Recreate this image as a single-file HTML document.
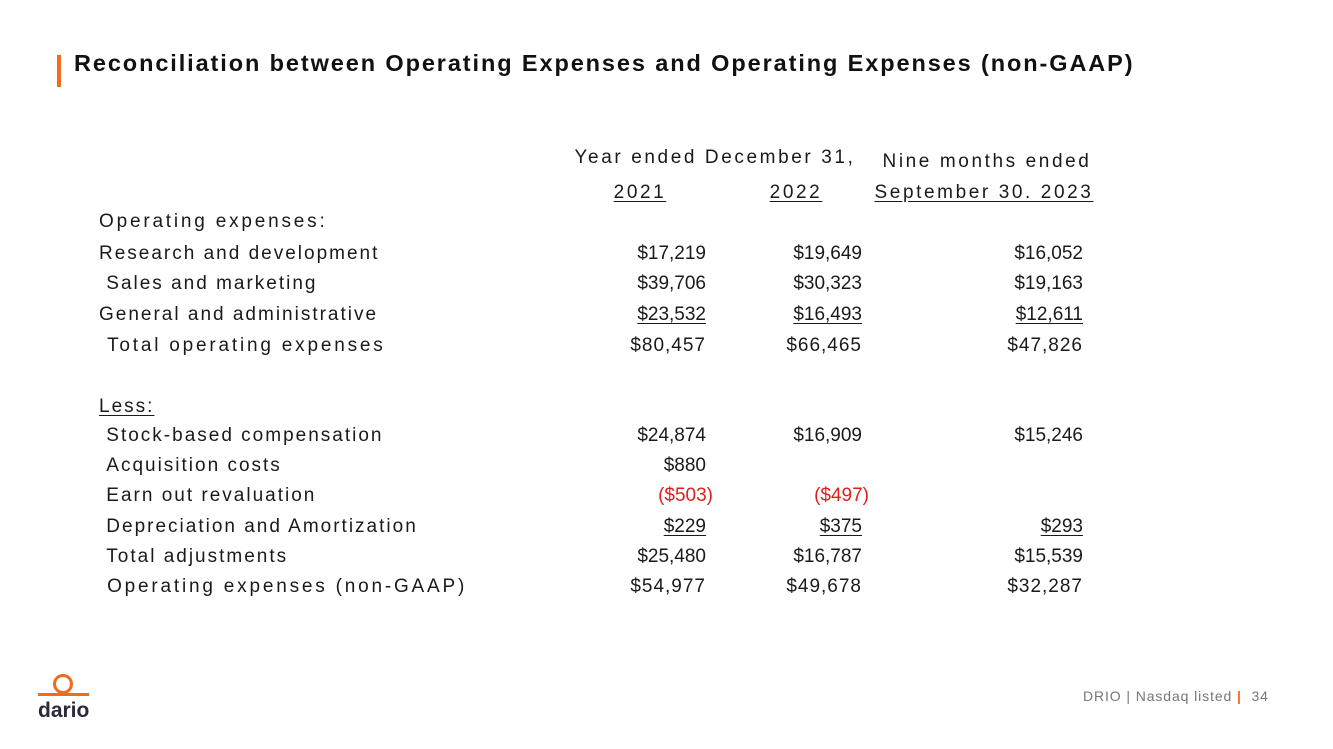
<!DOCTYPE html>
<html><head><meta charset="utf-8"><style>
body{margin:0;width:1333px;height:749px;background:#fff;position:relative;overflow:hidden;font-family:"Liberation Sans",sans-serif;color:#1a1a1a}
.t{position:absolute;font-size:19px;white-space:nowrap;line-height:22px}
.r{text-align:right;width:200px}
.c{text-align:center;width:300px}
.u{text-decoration:underline;text-underline-offset:3px}
.red{color:#e0201c}
.lab{letter-spacing:2px}
.sp{letter-spacing:2.8px}
.hd{letter-spacing:2.6px}
.vsp{letter-spacing:1px}
</style></head><body>
<div style="position:absolute;left:57px;top:55px;width:4px;height:32px;background:#f26b1d"></div>
<div class="t" style="left:74px;top:48px;font-size:23.5px;font-weight:bold;line-height:30px;color:#111;letter-spacing:1.9px">Reconciliation between Operating Expenses and Operating Expenses (non-GAAP)</div>

<div class="t c hd" style="left:565px;top:147px">Year ended December 31,</div>
<div class="t c hd" style="left:837px;top:151px">Nine months ended</div>
<div class="t c u hd" style="left:490px;top:182px">2021</div>
<div class="t c u hd" style="left:646px;top:182px">2022</div>
<div class="t c u hd" style="left:834px;top:182px">September 30. 2023</div>

<div id="rows"></div>

<svg style="position:absolute;left:36px;top:672px" width="60" height="50">
<circle cx="27" cy="12" r="8.5" fill="none" stroke="#f26b1d" stroke-width="3"/>
<rect x="2" y="21" width="51" height="3" fill="#f26b1d"/>
<text x="2" y="45" font-family="Liberation Sans" font-size="21" font-weight="bold" fill="#2a2a3a">dario</text>
</svg>
<div class="t" style="left:1083px;top:685px;font-size:14px;color:#777;letter-spacing:0.9px">DRIO | Nasdaq listed <span style="color:#f26b1d;font-weight:bold">|</span> &nbsp;34</div>

<script>
const labels=["Operating expenses:","Research and development"," Sales and marketing","General and administrative"," Total operating expenses","Less:"," Stock-based compensation"," Acquisition costs"," Earn out revaluation"," Depreciation and Amortization"," Total adjustments"," Operating expenses (non-GAAP)"];
const tops=[211,243,273,304,335,396,425,455,485,516,546,576];
const v2021=["","$17,219","$39,706","$23,532","$80,457","","$24,874","$880","($503)","$229","$25,480","$54,977"];
const v2022=["","$19,649","$30,323","$16,493","$66,465","","$16,909","","($497)","$375","$16,787","$49,678"];
const v2023=["","$16,052","$19,163","$12,611","$47,826","","$15,246","","","$293","$15,539","$32,287"];
const under=[3,9];const spaced=[0,4,11];
const root=document.getElementById('rows');
function mk(txt,left,top,cls){const d=document.createElement('div');d.className='t '+cls;d.style.left=left+'px';d.style.top=top+'px';d.innerHTML=txt.replace(/^ /,'&nbsp;');root.appendChild(d);return d;}
labels.forEach((l,i)=>{
 const sp=spaced.includes(i)?' sp':' lab';
 const d=mk(l,99,tops[i],(i==5?'u':'')+sp);
 
 
 [[v2021,506],[v2022,662],[v2023,883]].forEach(([arr,x])=>{
  const v=arr[i];if(!v)return;
  const red=v.startsWith('(');
  const e=mk(v,x+(red?7:0),tops[i],'r'+(under.includes(i)?' u':'')+(red?' red':'')+(spaced.includes(i)?' vsp':''));
  
  
 });
});
</script>
</body></html>
